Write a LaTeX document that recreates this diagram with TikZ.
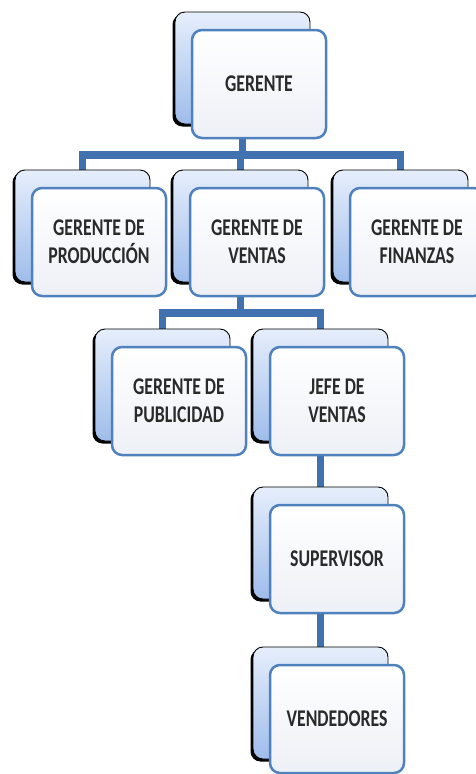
\documentclass[tikz,border=0pt]{standalone}
\usepackage{fontspec}
\setmainfont{Carlito}[FakeStretch=0.74]
\usetikzlibrary{backgrounds}
\definecolor{bgtop}{HTML}{E6EEFB}
\definecolor{bgbot}{HTML}{9FBDEB}
\definecolor{frontblue}{HTML}{4F81BD}
\definecolor{linkblue}{HTML}{4171AE}
\definecolor{fgbot}{HTML}{EDF0F6}
\definecolor{textgray}{HTML}{2A2A2A}
\tikzset{
  backshadow/.style={rounded corners=10pt, fill=black, minimum width=135pt, minimum height=112pt, inner sep=0pt, outer sep=0pt},
  backbox/.style={rounded corners=10pt, top color=bgtop, bottom color=bgbot, draw=black, line width=0.9pt, minimum width=135pt, minimum height=112pt, inner sep=0pt, outer sep=0pt},
  frontbox/.style={rounded corners=10pt, top color=white, bottom color=fgbot, draw=frontblue, line width=2.5pt, minimum width=134pt, minimum height=108pt, inner sep=0pt, outer sep=0pt, align=center, text=textgray, font=\fontsize{24}{28}\selectfont\bfseries},
  link/.style={draw=linkblue, line width=7.5pt}
}
\newcommand\orgunit[4]{%
  \node[backshadow, anchor=north west] (#1s) at (#2-2.5,#3+2.5) {};
  \node[backbox, anchor=north west] (#1b) at (#2,#3) {};
  \node[frontbox, anchor=north west] (#1) at (#2+17,#3+18) {#4};
}
\begin{document}
\begin{tikzpicture}[x=1pt,y=-1pt]
\useasboundingbox (0,0) rectangle (476,774);
\orgunit{ger}{175}{12}{GERENTE}
\orgunit{pro}{15}{170}{GERENTE DE\\PRODUCCIÓN}
\orgunit{ven}{173}{170}{GERENTE DE\\VENTAS}
\orgunit{fin}{333}{170}{GERENTE DE\\FINANZAS}
\orgunit{pub}{95}{329}{GERENTE DE\\PUBLICIDAD}
\orgunit{jef}{253}{329}{JEFE DE\\VENTAS}
\orgunit{sup}{253}{487}{SUPERVISOR}
\orgunit{vnd}{253}{647}{VENDEDORES}
\coordinate (bar1) at (0,155);
\coordinate (bar2) at (0,313);
\begin{pgfonlayer}{background}
  \draw[link] (gerb.center) -- (gerb.center |- bar1);
  \draw[link] (prob.north) -- (prob.north |- bar1) -- (finb.north |- bar1) -- (finb.north);
  \draw[link] (venb.north) -- (venb.north |- bar1);
  \draw[link] (venb.center) -- (venb.center |- bar2);
  \draw[link] (pubb.north) -- (pubb.north |- bar2) -- (jefb.north |- bar2) -- (jefb.north);
  \draw[link] (jefb.center) -- (supb.north);
  \draw[link] (supb.center) -- (vndb.north);
\end{pgfonlayer}
\end{tikzpicture}
\end{document}
